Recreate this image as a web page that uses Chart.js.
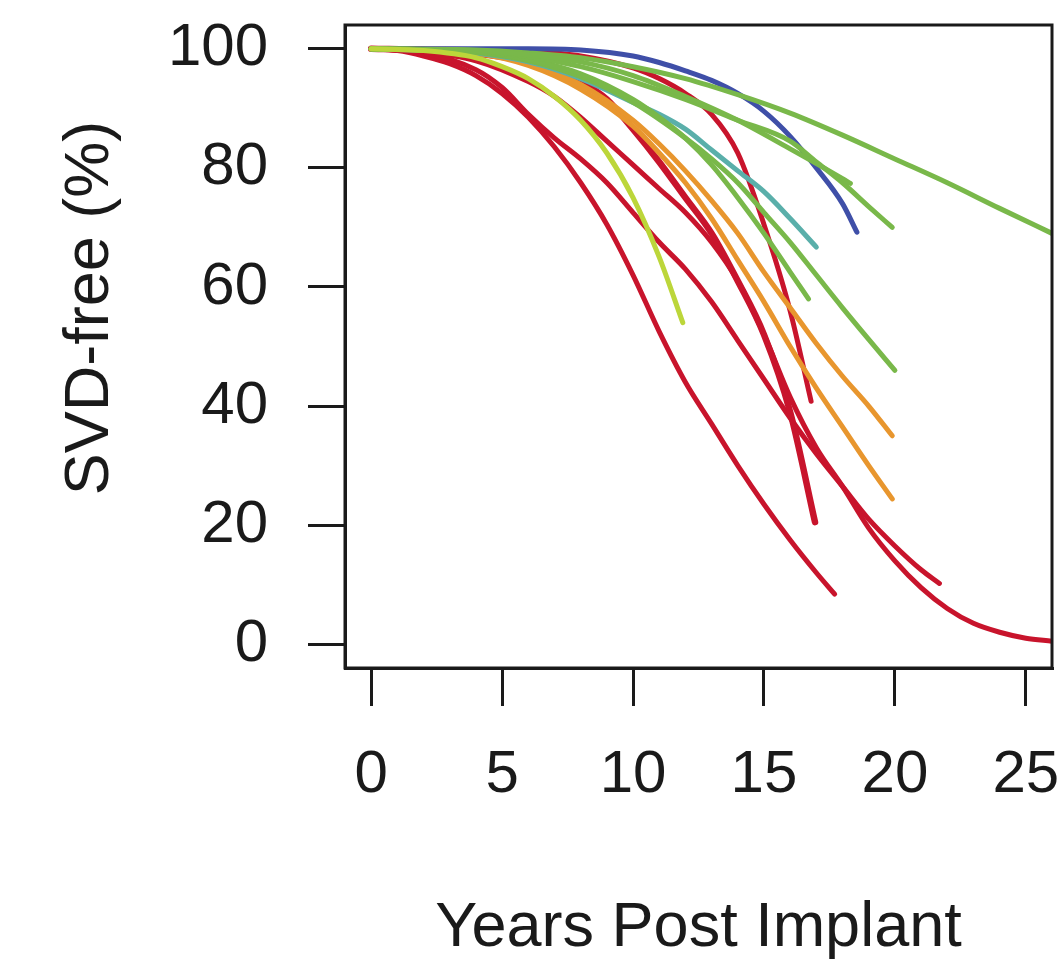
<!DOCTYPE html>
<html>
<head>
<meta charset="utf-8">
<title>SVD-free survival curves</title>
<script src="https://cdn.jsdelivr.net/npm/chart.js@4.4.1/dist/chart.umd.min.js"></script>
<style>
  html, body { margin: 0; padding: 0; background: #fff; }
  #wrap { width: 1061px; height: 962px; }
</style>
</head>
<body>
<div id="wrap"><canvas id="svdChart" width="1061" height="962"></canvas></div>
<script>
// axis ticks
const xTicks = [0, 5, 10, 15, 20, 25];
const yTicks = [0, 20, 40, 60, 80, 100];

// freedom from SVD (%) by years post implant, one pair of arrays per valve curve
const greenLongYears = [0, 4, 6, 8, 10, 12, 14, 16, 18, 20, 22, 24, 26];
const greenLongValues = [100, 99.8, 99.3, 98.5, 97, 95, 92.3, 89.2, 85.5, 81.5, 77.5, 73.2, 69];

const green1Years = [0, 4, 6, 8, 10, 12, 14, 16, 18, 18.3];
const green1Values = [100, 99.7, 99, 97.8, 95.5, 92, 88, 83.2, 78.2, 77.4];

const green2Years = [0, 4, 6, 8, 10, 12, 14, 16, 17, 18, 19, 19.9];
const green2Values = [100, 99.6, 98.7, 97, 94.5, 91.5, 88, 84.5, 81, 77.5, 73.5, 70];

const green3Years = [0, 4, 6, 8, 10, 11, 12, 13, 14, 15, 16, 16.7];
const green3Values = [100, 99.5, 98.2, 95.8, 91.5, 88.5, 85, 80.5, 75, 69, 62.5, 58];

const green4Years = [0, 4, 6, 8, 10, 12, 13, 14, 15, 16, 17, 18, 19, 20];
const green4Values = [100, 99.4, 98, 95.3, 91, 85, 81.5, 77.5, 72.5, 67.5, 62, 56.5, 51.2, 46];

const tealYears = [0, 4, 6, 8, 10, 11, 12, 13, 14, 15, 16, 17];
const tealValues = [100, 99.3, 97.8, 95, 91, 89, 86.5, 83, 79.5, 76, 71.5, 66.7];

const blueYears = [0, 4, 6, 8, 10, 11, 12, 13, 14, 15, 16, 17, 18, 18.55];
const blueValues = [100, 100, 100, 99.8, 98.8, 97.7, 96.3, 94.7, 92.5, 89.5, 85.3, 80, 74, 69.2];

const yellowYears = [0, 2, 4, 5, 6, 7, 8, 9, 10, 11, 11.9];
const yellowValues = [100, 99.7, 98.5, 97, 95, 92, 88, 82.5, 75, 65, 54];

const orange1Years = [0, 4, 6, 8, 10, 11, 12, 13, 14, 15, 16, 17, 18, 19, 19.9];
const orange1Values = [100, 99.3, 97.5, 94, 88, 84, 79.5, 74.5, 69, 62.5, 56.5, 50.5, 45, 40, 35];

const orange2Years = [0, 4, 6, 8, 10, 11, 12, 13, 14, 15, 16, 17, 18, 19, 19.9];
const orange2Values = [100, 99.2, 97.2, 93.2, 87, 82.5, 77.5, 71.5, 64.5, 57.5, 50, 43, 36.5, 30, 24.4];

const red1Years = [0, 1, 2, 3, 4, 5, 6, 7, 8, 9, 10, 11, 12, 13, 14, 15, 16, 17, 17.7];
const red1Values = [100, 99.7, 98.8, 97.5, 95.5, 92.5, 88.5, 83.5, 77.5, 70.5, 62, 52.5, 44, 37, 30, 23.5, 17.5, 12, 8.4];

const red2Years = [0, 2, 4, 5, 6, 7, 8, 9, 10, 11, 12, 13, 14, 15, 16, 17, 18, 19, 20, 21, 21.7];
const red2Values = [100, 99.3, 96.5, 93.5, 89, 85, 81.5, 77.5, 72.5, 67.5, 63, 57.5, 51, 44.5, 38, 32, 26.5, 21, 16.5, 12.5, 10.2];

const red3Years = [0, 2, 4, 6, 7, 8, 9, 10, 11, 12, 13, 14, 15, 16, 17, 18, 19, 20, 21, 22, 23, 24, 25, 26];
const red3Values = [100, 99.5, 98, 94.5, 92, 88.5, 84.5, 80.5, 76.5, 72.5, 67.5, 61, 52, 41.5, 33, 26.5, 19.5, 14, 9.5, 6, 3.5, 2, 1, 0.5];

const red4Years = [0, 2, 4, 6, 7, 8, 9, 10, 11, 12, 13, 14, 15, 16, 16.95];
const red4Values = [100, 99.8, 99.2, 97.8, 96.5, 94.5, 91.5, 86.5, 81, 75, 69, 61, 52, 39, 20.5];

const red5Years = [0, 4, 6, 8, 10, 11, 12, 13, 14, 15, 16, 16.8];
const red5Values = [100, 99.9, 99.6, 98.8, 96.8, 95, 92.5, 89, 82.5, 70.5, 56, 40.8];

const RED = '#C8142C', ORANGE = '#E8962E', YELLOW = '#BCD63A',
      GREEN = '#79B84A', TEAL = '#5AAFAA', BLUE = '#3F4FA8';

// first entry is drawn on top; third field is line width
const curves = [
  [yellowYears, yellowValues, YELLOW, 5],
  [green1Years, green1Values, GREEN, 5],
  [green2Years, green2Values, GREEN, 5],
  [greenLongYears, greenLongValues, GREEN, 5],
  [green3Years, green3Values, GREEN, 5],
  [green4Years, green4Values, GREEN, 5],
  [tealYears, tealValues, TEAL, 5],
  [orange1Years, orange1Values, ORANGE, 5],
  [orange2Years, orange2Values, ORANGE, 5],
  [blueYears, blueValues, BLUE, 5],
  [red5Years, red5Values, RED, 5],
  [red4Years, red4Values, RED, 6.5],
  [red3Years, red3Values, RED, 5],
  [red2Years, red2Values, RED, 5],
  [red1Years, red1Values, RED, 5]
];

const datasets = curves.map(([years, values, color, width]) => ({
  data: years.map((x, i) => ({ x: x, y: values[i] })),
  borderColor: color,
  borderWidth: width,
  borderCapStyle: 'round',
  pointRadius: 0,
  showLine: true,
  fill: false,
  cubicInterpolationMode: 'monotone'
}));

const INK = '#1a1a1a';
const FONT = "'Liberation Sans', Arial, sans-serif";

// closes the box on the top and right sides
const frame = {
  id: 'frame',
  afterDatasetsDraw(chart) {
    const { ctx, chartArea: a } = chart;
    ctx.save();
    ctx.strokeStyle = INK;
    ctx.lineWidth = 3;
    ctx.strokeRect(a.left, a.top, a.right - a.left, a.bottom - a.top);
    ctx.restore();
  }
};

// y axis title, set a little above the middle of the axis
const yTitle = {
  id: 'yTitle',
  afterDraw(chart) {
    const { ctx } = chart;
    ctx.save();
    ctx.translate(91, 308);
    ctx.rotate(-Math.PI / 2);
    ctx.font = '63px ' + FONT;
    ctx.fillStyle = INK;
    ctx.textAlign = 'center';
    ctx.textBaseline = 'middle';
    ctx.fillText('SVD-free (%)', 0, 0);
    ctx.restore();
  }
};

// keep the plot box fixed: no extra room reserved for overhanging labels
function noLabelPadding(axis) {
  axis.paddingLeft = 0;
  axis.paddingRight = 0;
  axis.paddingTop = 0;
  axis.paddingBottom = 0;
}

Chart.defaults.font.family = FONT;
Chart.defaults.color = INK;

new Chart(document.getElementById('svdChart'), {
  type: 'scatter',
  data: { datasets: datasets },
  plugins: [frame, yTitle],
  options: {
    responsive: false,
    animation: false,
    layout: { padding: { left: 0, top: 25, right: 9, bottom: 0 } },
    plugins: {
      legend: { display: false },
      tooltip: { enabled: false }
    },
    scales: {
      x: {
        type: 'linear',
        min: -1,
        max: 26,
        afterBuildTicks: axis => { axis.ticks = xTicks.map(v => ({ value: v })); },
        afterFit: axis => { axis.height = 294; noLabelPadding(axis); },
        ticks: {
          autoSkip: false,
          maxRotation: 0,
          padding: 33,
          color: INK,
          font: { size: 60, lineHeight: 1.2 }
        },
        grid: { drawOnChartArea: false, tickLength: 38, color: INK, lineWidth: 3 },
        border: { display: true, color: INK, width: 3 },
        title: {
          display: true,
          text: 'Years Post Implant',
          color: INK,
          font: { size: 63, lineHeight: 1.2 },
          padding: { top: 0, bottom: -4 }
        }
      },
      y: {
        min: -4,
        max: 104,
        afterBuildTicks: axis => { axis.ticks = yTicks.map(v => ({ value: v })); },
        afterFit: axis => { axis.width = 345; noLabelPadding(axis); },
        ticks: {
          padding: 40,
          color: INK,
          font: { size: 60, lineHeight: 1.2 }
        },
        grid: { drawOnChartArea: false, tickLength: 37, color: INK, lineWidth: 3 },
        border: { display: true, color: INK, width: 3 },
        title: { display: false }
      }
    }
  }
});
</script>
</body>
</html>
